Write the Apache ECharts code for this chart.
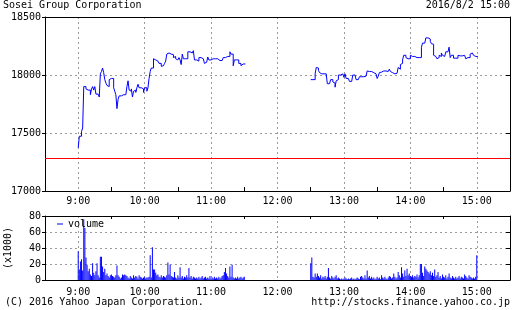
<!DOCTYPE html>
<html><head><meta charset="utf-8">
<script src="https://cdn.jsdelivr.net/npm/echarts@6/dist/echarts.min.js"></script>
<style>html,body{margin:0;padding:0;background:#fff}#c{width:512px;height:310px}</style>
</head><body><div id="c"></div>
<script>
const titleText = "Sosei Group Corporation";
const dateText = "2016/8/2 15:00";
const copyrightText = "(C) 2016 Yahoo Japan Corporation.";
const urlText = "http://stocks.finance.yahoo.co.jp";
const volumeUnitText = "(x1000)";
const prevClose = 17280;
const priceTicks = [17000, 17500, 18000, 18500];
const volumeTicks = [0, 20, 40, 60, 80];
const axisStartMin = 510;  // 8:30
const axisEndMin = 930;    // 15:30
const morningStartMin = 540;   // 9:00
const afternoonStartMin = 750; // 12:30

// per-minute prices 9:00-11:30
const morningPrice = [17372,17472,17472,17514,17543,17900,17900,17880,17870,17860,17870,17830,17880,17900,17870,17900,17835,17835,17820,17810,
18010,18030,18060,18020,17960,17930,17910,17900,17960,17970,17970,17970,17890,17860,17830,17710,17790,17820,17820,17830,
17830,17820,17830,17830,17900,17950,17870,17860,17880,17810,17860,17870,17850,17890,17920,17890,17890,17880,17880,17850,
17890,17890,17860,17890,17970,18030,18060,18060,18140,18130,18130,18120,18120,18100,18100,18075,18080,18090,18100,18120,
18180,18190,18180,18180,18180,18175,18150,18160,18140,18130,18130,18150,18130,18090,18180,18140,18140,18150,18140,18200,
18200,18200,18190,18200,18210,18130,18130,18120,18120,18150,18150,18150,18140,18140,18100,18110,18120,18155,18130,18130,
18130,18140,18140,18140,18140,18140,18125,18125,18125,18125,18125,18150,18150,18150,18160,18160,18160,18200,18180,18180,
18080,18130,18130,18130,18130,18100,18100,18080,18095,18095,18095];
// per-minute prices 12:30-15:00
const afternoonPrice = [17960,17960,17960,17960,18010,18065,18060,18040,18020,18010,18010,18010,18010,18010,18010,17925,17925,17925,17960,17960,
17940,17930,17895,17950,17960,18000,18000,17990,18010,18000,17980,18010,17970,17970,17960,17945,17945,17960,18000,18000,
17990,17960,17960,17970,17985,17985,17985,17985,17990,17990,17990,18035,18030,18030,18030,18025,18020,18010,18010,18000,
17970,17990,18020,18025,18020,18035,18030,18035,18030,18030,18030,18050,18030,18020,18030,18010,18010,18015,18010,18065,
18050,18090,18100,18130,18170,18170,18150,18140,18130,18140,18170,18160,18160,18160,18150,18150,18150,18150,18150,18150,
18240,18275,18275,18290,18320,18320,18320,18310,18290,18270,18265,18170,18160,18150,18140,18150,18170,18160,18190,18170,
18160,18160,18200,18200,18210,18240,18150,18170,18170,18145,18145,18150,18145,18170,18165,18165,18165,18170,18170,18160,
18140,18150,18150,18150,18180,18190,18185,18170,18160,18160,18160];
// per-minute volume (x1000) 9:00-11:30
const morningVolume = [36,13,23,26,12,76,65,28,19,11,14,7,5,21,9,6,11,21,6,3,
29,29,17,10,14,6,8,5,3,6,7,5,4,3,6,18,6,4,2,3,
7,6,7,6,5,3,2,5,3,2,6,3,5,4,2,6,4,3,2,3,
4,2,3,3,4,31,3,41,13,13,9,6,7,4,3,6,3,5,4,3,
6,22,7,19,5,4,3,10,3,2,6,3,16,3,5,2,4,3,6,3,
15,3,5,2,4,3,2,3,2,4,2,3,5,2,3,4,2,3,2,5,
2,3,2,4,2,3,2,4,2,3,5,6,10,15,8,5,3,17,4,19,
3,2,3,2,4,2,3,4,2,3,4];
// per-minute volume (x1000) 12:30-15:00
const afternoonVolume = [21,28,4,3,8,4,8,5,3,6,2,4,3,5,2,4,15,3,2,5,
3,2,4,6,2,3,2,1,2,1,2,3,2,1,2,1,2,3,1,2,
1,2,3,2,1,4,5,3,2,6,2,12,3,5,2,4,2,3,1,2,
4,2,3,1,6,3,2,4,2,1,3,5,4,2,3,8,4,2,3,10,
6,3,16,8,4,12,5,14,6,8,5,4,6,3,5,4,7,3,6,20,
20,9,5,17,14,12,10,8,11,6,9,5,13,4,6,10,3,5,2,7,
4,3,6,2,4,8,3,2,5,3,2,4,2,3,5,2,4,3,2,7,
5,3,2,6,4,3,2,3,2,4,31];

const FONT = "'DejaVu Sans Mono', monospace";
const BLUE = '#0000ff';
const GRIDC = '#9a9a9a';

const cats = [];
for (let m = axisStartMin; m <= axisEndMin; m++) {
  cats.push(Math.floor(m / 60) + ':' + String(m % 60).padStart(2, '0'));
}
function pick(arrM, arrA, m) {
  if (m >= morningStartMin && m - morningStartMin < arrM.length) return arrM[m - morningStartMin];
  if (m >= afternoonStartMin && m - afternoonStartMin < arrA.length) return arrA[m - afternoonStartMin];
  return '-';
}
const priceData = [], volData = [];
for (let m = axisStartMin; m <= axisEndMin; m++) {
  priceData.push(pick(morningPrice, afternoonPrice, m));
  volData.push(pick(morningVolume, afternoonVolume, m));
}
const isHour = (i, v) => v.endsWith(':00');
const isHalf = (i, v) => v.endsWith(':30');
const dash = { type: [2, 3], color: GRIDC, width: 1 };
const black = { color: '#000', width: 1 };
const lbl = { color: '#000', fontFamily: FONT, fontSize: 10 };
const plain = v => String(v);

function xAx(gridIndex, opts) {
  return Object.assign({
    type: 'category', gridIndex, data: cats, boundaryGap: false,
    axisLine: { show: true, lineStyle: black, onZero: false },
    axisTick: { show: false }, axisLabel: { show: false }, splitLine: { show: false }
  }, opts);
}
function yAx(gridIndex, min, max, interval, opts) {
  return Object.assign({
    type: 'value', gridIndex, min, max, interval,
    axisLine: { show: true, lineStyle: black },
    axisTick: { show: false }, axisLabel: { show: false }, splitLine: { show: false }
  }, opts);
}

const chart = echarts.init(document.getElementById('c'), null, { renderer: 'canvas' });
chart.setOption({
  animation: false,
  backgroundColor: '#fff',
  textStyle: { fontFamily: FONT },
  grid: [
    { left: 45, right: 2, top: 17, height: 174, containLabel: false, outerBoundsMode: 'none' },
    { left: 45, right: 2, top: 216, height: 64, containLabel: false, outerBoundsMode: 'none' }
  ],
  xAxis: [
    xAx(0, {
      position: 'bottom',
      axisTick: { show: true, inside: true, length: 4, interval: isHalf, lineStyle: black },
      axisLabel: Object.assign({ show: true, interval: isHour, margin: 5 }, lbl),
      splitLine: { show: true, interval: isHour, lineStyle: dash }
    }),
    xAx(0, { position: 'top' }),
    xAx(1, {
      position: 'bottom',
      axisLabel: Object.assign({ show: true, interval: isHour, margin: 7 }, lbl),
      splitLine: { show: true, interval: isHour, lineStyle: dash }
    }),
    xAx(1, {
      position: 'top',
      axisTick: { show: true, inside: true, length: 3, interval: isHalf, lineStyle: black }
    })
  ],
  yAxis: [
    yAx(0, priceTicks[0], priceTicks[priceTicks.length - 1], 500, {
      position: 'left',
      axisTick: { show: true, inside: false, length: 3, lineStyle: black },
      axisLabel: Object.assign({ show: true, margin: 4, formatter: plain }, lbl),
      splitLine: { show: true, lineStyle: dash }
    }),
    yAx(0, priceTicks[0], priceTicks[priceTicks.length - 1], 500, {
      position: 'right',
      axisTick: { show: true, inside: true, length: 4, lineStyle: black }
    }),
    yAx(1, volumeTicks[0], volumeTicks[volumeTicks.length - 1], 20, {
      position: 'left',
      axisTick: { show: true, inside: false, length: 3, lineStyle: black },
      axisLabel: Object.assign({ show: true, margin: 4, formatter: plain }, lbl),
      splitLine: { show: true, lineStyle: dash }
    }),
    yAx(1, volumeTicks[0], volumeTicks[volumeTicks.length - 1], 20, {
      position: 'right',
      axisTick: { show: true, inside: true, length: 4, lineStyle: black }
    })
  ],
  legend: {
    data: [{ name: 'volume', icon: 'rect' }],
    left: 57, top: 219, padding: 0, itemWidth: 6, itemHeight: 1, itemGap: 4,
    textStyle: { color: '#000', fontFamily: FONT, fontSize: 10 },
    selectedMode: false
  },
  series: [
    {
      type: 'line', name: 'price', xAxisIndex: 0, yAxisIndex: 0,
      data: priceData, step: 'end', showSymbol: false, symbol: 'none',
      connectNulls: false, lineStyle: { color: BLUE, width: 1 }, silent: true,
      markLine: {
        silent: true, symbol: 'none', label: { show: false },
        lineStyle: { color: '#ff0000', width: 1, type: 'solid' },
        data: [{ yAxis: prevClose }]
      }
    },
    {
      type: 'bar', name: 'volume', xAxisIndex: 2, yAxisIndex: 2,
      data: volData, barWidth: 1, itemStyle: { color: BLUE }, silent: true
    }
  ],
  graphic: [
    { type: 'text', left: 3, top: 0, style: { text: titleText, font: '10px ' + FONT, fill: '#000' } },
    { type: 'text', right: 2, top: 0, style: { text: dateText, font: '10px ' + FONT, fill: '#000' } },
    { type: 'text', left: 5, top: 297, style: { text: copyrightText, font: '10px ' + FONT, fill: '#000' } },
    { type: 'text', right: 2, top: 297, style: { text: urlText, font: '10px ' + FONT, fill: '#000' } },
    { type: 'text', x: 8, y: 248, rotation: Math.PI / 2,
      style: { text: volumeUnitText, font: '10px ' + FONT, fill: '#000', align: 'center', verticalAlign: 'middle' } }
  ]
});
</script>
</body></html>
